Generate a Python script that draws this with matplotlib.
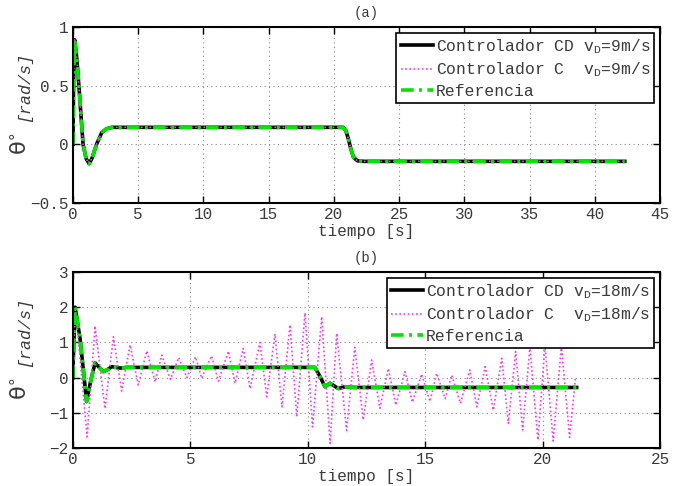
import matplotlib
matplotlib.use("Agg")
import matplotlib.pyplot as plt

plt.rcParams['font.family'] = ['Liberation Mono', 'DejaVu Sans']
plt.rcParams['mathtext.fontset'] = 'custom'
plt.rcParams['mathtext.rm'] = 'Liberation Mono'
plt.rcParams['mathtext.it'] = 'Liberation Mono'

# (a) vD = 9 m/s : CD controller, C controller and reference overlap
t_a = [0.0, 0.0, 0.05, 0.13, 0.3, 0.5, 0.77, 1.0, 1.23, 1.45, 1.8, 2.2, 2.56, 3.0,
       20.7, 20.9, 21.1, 21.3, 21.5, 21.8, 22.3, 42.3]
cd_a = [0.0, 0.05, 0.6, 0.89, 0.72, 0.42, 0.0, -0.12, -0.165, -0.12, 0.0, 0.1, 0.133, 0.145,
        0.145, 0.12, 0.05, -0.04, -0.11, -0.14, -0.145, -0.145]
c_a = cd_a
ref_a = cd_a

# (b) vD = 18 m/s
t_b = [0.0, 0.0, 0.09, 0.3, 0.58, 0.75, 0.94, 1.1, 1.29, 1.45, 1.65, 2.0, 2.3,
       10.3, 10.52, 10.73, 10.94, 11.3, 11.58, 12.0, 21.45]
cd_b = [0.0, 0.3, 2.0, 1.1, -0.68, -0.1, 0.42, 0.3, 0.17, 0.22, 0.31, 0.27, 0.29,
        0.29, 0.03, -0.26, -0.16, -0.31, -0.26, -0.28, -0.28]
ref_b = cd_b

# C controller oscillation (turning points)
t_c = [0.0, 0.1, 0.6, 0.94, 1.36, 1.72, 2.07, 2.43, 2.78, 3.14, 3.5, 3.78, 4.15, 4.5,
       4.85, 5.22, 5.48, 5.9, 6.19, 6.62, 6.9, 7.25, 7.54, 7.96, 8.25, 8.6, 8.9, 9.24,
       9.53, 9.88, 10.2, 10.59, 10.95, 11.23, 11.65, 12.0, 12.36, 12.72, 13.07, 13.43,
       13.75, 14.14, 14.45, 14.85, 15.2, 15.49, 15.85, 16.13, 16.5, 16.9, 17.2, 17.55,
       17.9, 18.26, 18.54, 18.85, 19.15, 19.46, 19.8, 20.1, 20.45, 20.8, 21.15, 21.4]
c_b = [0.0, 2.0, -1.68, 1.47, -0.88, 1.16, -0.38, 0.93, -0.21, 0.76, -0.12, 0.64, -0.05, 0.57,
       0.0, 0.59, -0.02, 0.62, -0.1, 0.75, -0.16, 0.83, -0.31, 1.0, -0.54, 1.24, -0.83, 1.5,
       -1.11, 1.84, -1.4, 1.73, -1.87, 1.26, -1.5, 0.86, -1.2, 0.5, -0.87, 0.26,
       -0.78, 0.17, -0.7, 0.1, -0.68, 0.12, -0.6, 0.07, -0.73, 0.22, -0.83, 0.31,
       -0.92, 0.55, -1.3, 0.74, -1.49, 0.88, -1.77, 0.9, -1.8, 0.9, -1.7, 0.0]

xt_a = [0, 5, 10, 15, 20, 25, 30, 35, 40, 45]
yt_a = [-0.5, 0, 0.5, 1]
ytl_a = ['\u22120.5', '0', '0.5', '1']
xt_b = [0, 5, 10, 15, 20, 25]
yt_b = [-2, -1, 0, 1, 2, 3]
ytl_b = ['\u22122', '\u22121', '0', '1', '2', '3']

GREEN = '#00e400'
MAG = '#ff33ff'
TXT = '#3a3a3a'

fig = plt.figure(figsize=(6.87, 4.86), dpi=100)
ax1 = fig.add_axes([0.1063, 0.5823, 0.8544, 0.3621])
ax2 = fig.add_axes([0.1063, 0.0782, 0.8544, 0.3621])


def draw(ax, t, cd, tc, c, tr, ref, vlabel, title, xt, yt, ytl, xlim, ylim):
    ax.plot(t, cd, color='black', lw=2.6, label='Controlador CD $\\mathrm{v_D}$=' + vlabel)
    ax.plot(tc, c, color=MAG, lw=1.2, ls=(0, (1, 1.5)), label='Controlador C  $\\mathrm{v_D}$=' + vlabel)
    ax.plot(tr, ref, color=GREEN, lw=2.6, ls=(0, (3.5, 1.5, 0.8, 1.5)), label='Referencia')
    ax.set_xlim(xlim)
    ax.set_ylim(ylim)
    ax.set_xticks(xt)
    ax.set_xticklabels([str(v) for v in xt])
    ax.set_yticks(yt)
    ax.set_yticklabels(ytl)
    ax.grid(True, ls=(0, (1, 3)), color='#888888', lw=0.8)
    ax.tick_params(direction='in', top=True, right=True, length=5, width=1,
                   labelsize=11.5, labelcolor=TXT, pad=3)
    for s in ax.spines.values():
        s.set_linewidth(1.5)
    ax.set_xlabel('tiempo [s]', fontsize=11.5, color=TXT, labelpad=1)
    ax.set_title(title, fontsize=10, color=TXT, pad=7)
    ax.text(-0.088, 0.34, r'$\mathrm{\theta}^{\circ}$', transform=ax.transAxes, rotation=90,
            fontsize=16, math_fontfamily='dejavusans', color=TXT,
            ha='center', va='center')
    ax.text(-0.083, 0.66, '[rad/s]', transform=ax.transAxes, rotation=90,
            fontsize=12, style='italic', color=TXT, ha='center', va='center')
    leg = ax.legend(loc='upper right', fontsize=11.8, fancybox=False, framealpha=1,
                    edgecolor='black', borderaxespad=0.35, handlelength=2.0,
                    handletextpad=0.15, labelspacing=0.3, borderpad=0.25)
    leg.get_frame().set_linewidth(1.2)
    for txt in leg.get_texts():
        txt.set_color(TXT)


draw(ax1, t_a, cd_a, t_a, c_a, t_a, ref_a, '9m/s', '(a)', xt_a, yt_a, ytl_a, (0, 45), (-0.5, 1))
draw(ax2, t_b, cd_b, t_c, c_b, t_b, ref_b, '18m/s', '(b)', xt_b, yt_b, ytl_b, (0, 25), (-2, 3))

fig.savefig('out.png', dpi=100)
